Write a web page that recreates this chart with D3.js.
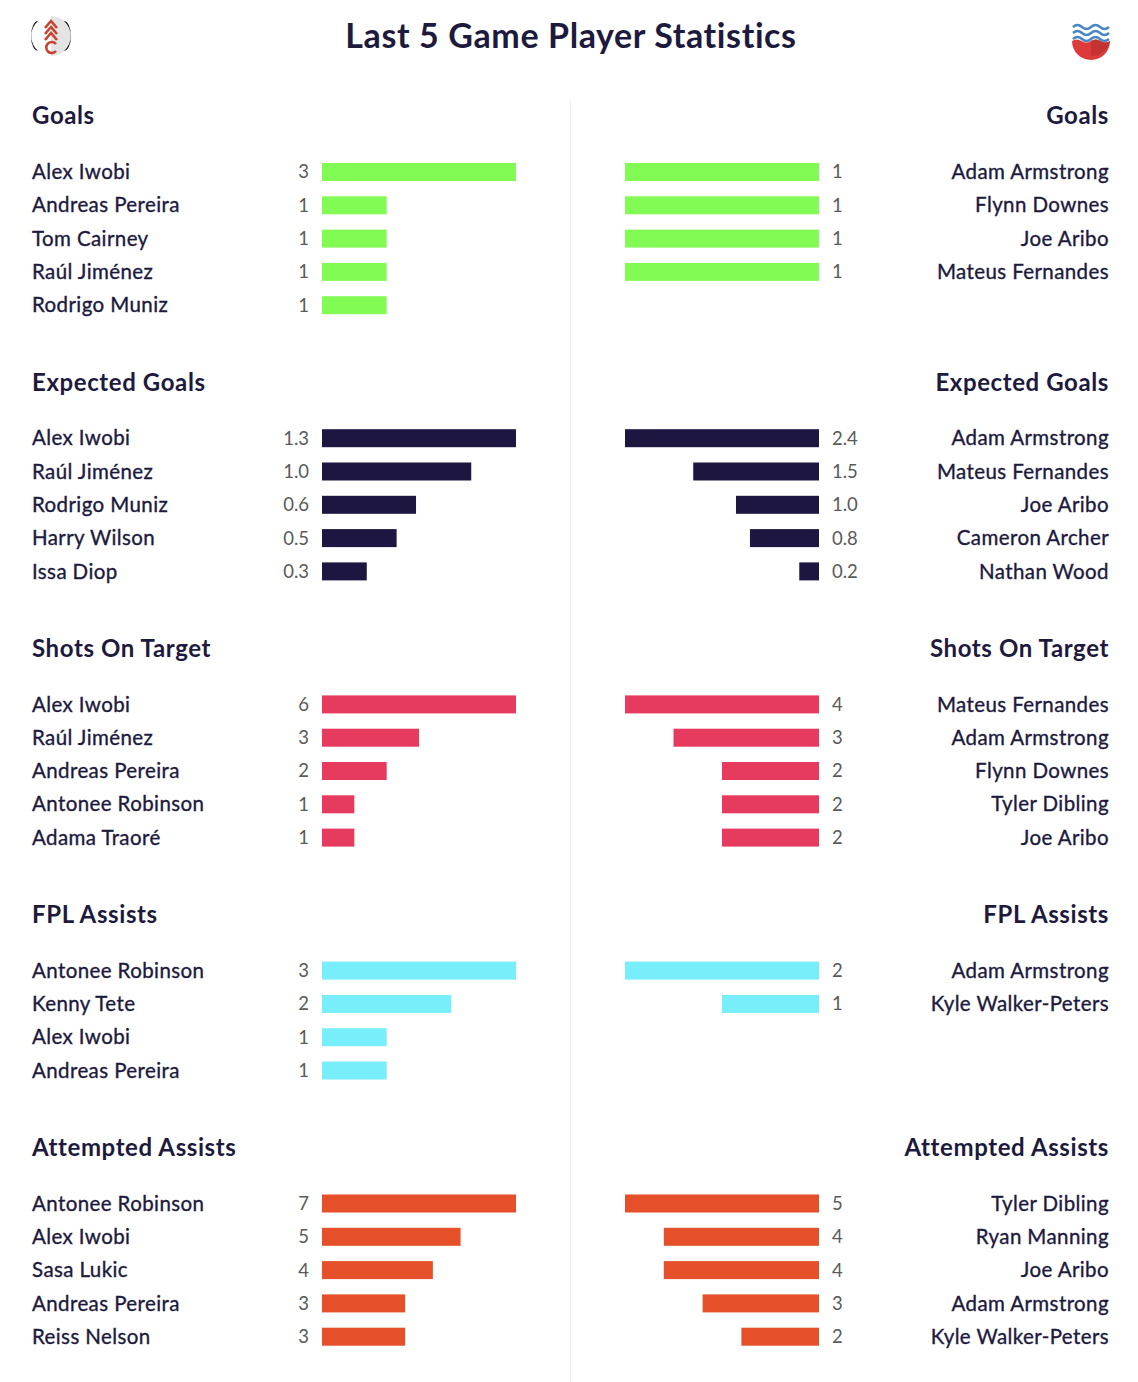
<!DOCTYPE html>
<html>
<head>
<meta charset="utf-8">
<script src="https://cdn.jsdelivr.net/npm/d3@7/dist/d3.min.js"></script>
<style>
  html, body { margin: 0; padding: 0; background: #fff; }
  svg { display: block; font-family: Lato, "Open Sans", sans-serif; }
</style>
</head>
<body>
<div id="chart"></div>
<script>
// ---- DATA ----
const title = "Last 5 Game Player Statistics";
const sectionTitles = ["Goals", "Expected Goals", "Shots On Target", "FPL Assists", "Attempted Assists"];
const sectionColors = ["#83fb55", "#1d1640", "#e63a5f", "#77eefa", "#e5502a"];
const valueFormats = ["d", ".1f", "d", "d", "d"];

const goalsHomeNames = ["Alex Iwobi", "Andreas Pereira", "Tom Cairney", "Raúl Jiménez", "Rodrigo Muniz"];
const goalsHomeValues = [3, 1, 1, 1, 1];
const goalsAwayNames = ["Adam Armstrong", "Flynn Downes", "Joe Aribo", "Mateus Fernandes"];
const goalsAwayValues = [1, 1, 1, 1];

const xgHomeNames = ["Alex Iwobi", "Raúl Jiménez", "Rodrigo Muniz", "Harry Wilson", "Issa Diop"];
const xgHomeValues = [1.3, 1.0, 0.63, 0.5, 0.3];
const xgAwayNames = ["Adam Armstrong", "Mateus Fernandes", "Joe Aribo", "Cameron Archer", "Nathan Wood"];
const xgAwayValues = [2.36, 1.53, 1.01, 0.84, 0.24];

const shotsHomeNames = ["Alex Iwobi", "Raúl Jiménez", "Andreas Pereira", "Antonee Robinson", "Adama Traoré"];
const shotsHomeValues = [6, 3, 2, 1, 1];
const shotsAwayNames = ["Mateus Fernandes", "Adam Armstrong", "Flynn Downes", "Tyler Dibling", "Joe Aribo"];
const shotsAwayValues = [4, 3, 2, 2, 2];

const fplHomeNames = ["Antonee Robinson", "Kenny Tete", "Alex Iwobi", "Andreas Pereira"];
const fplHomeValues = [3, 2, 1, 1];
const fplAwayNames = ["Adam Armstrong", "Kyle Walker-Peters"];
const fplAwayValues = [2, 1];

const aaHomeNames = ["Antonee Robinson", "Alex Iwobi", "Sasa Lukic", "Andreas Pereira", "Reiss Nelson"];
const aaHomeValues = [7, 5, 4, 3, 3];
const aaAwayNames = ["Tyler Dibling", "Ryan Manning", "Joe Aribo", "Adam Armstrong", "Kyle Walker-Peters"];
const aaAwayValues = [5, 4, 4, 3, 2];

const homeNames = [goalsHomeNames, xgHomeNames, shotsHomeNames, fplHomeNames, aaHomeNames];
const homeValues = [goalsHomeValues, xgHomeValues, shotsHomeValues, fplHomeValues, aaHomeValues];
const awayNames = [goalsAwayNames, xgAwayNames, shotsAwayNames, fplAwayNames, aaAwayNames];
const awayValues = [goalsAwayValues, xgAwayValues, shotsAwayValues, fplAwayValues, aaAwayValues];

// ---- LAYOUT ----
const W = 1138, H = 1382;
const ink = "#1d1a3d";
const svg = d3.select("#chart").append("svg").attr("width", W).attr("height", H);

svg.append("text").attr("x", 571).attr("y", 36).attr("dy", "0.35em")
  .attr("text-anchor", "middle").attr("font-size", 34).attr("font-weight", 700)
  .attr("letter-spacing", 0.6).attr("fill", ink).text(title);

// divider
svg.append("line").attr("x1", 570.5).attr("x2", 570.5).attr("y1", 100).attr("y2", H)
  .attr("stroke", "#efefef").attr("stroke-width", 1.2);

// Fulham-like logo
const fl = svg.append("g").attr("transform", "translate(51,36)");
fl.append("circle").attr("r", 20).attr("fill", "#fff");
fl.append("path").attr("d", "M0,-20 A20,20 0 0,1 0,20 Z").attr("fill", "#e4e4e4");
fl.append("path").attr("d", "M-13,-15 A20,20 0 0,0 -13,15 A7,15 0 0,1 -13,-15 Z").attr("fill", "#111");
fl.append("path").attr("d", "M13,-15 A20,20 0 0,1 13,15 A7,15 0 0,0 13,-15 Z").attr("fill", "#111");
fl.append("path").attr("d", "M-6,-8 L0,-15 L6,-8 M-6,-2 L0,-9 L6,-2 M-6,4 L0,-3 L6,4 M5,8 A5.5,5.5 0 1,0 5,15")
  .attr("fill", "none").attr("stroke", "#c8412f").attr("stroke-width", 2.6);

// Southampton-like logo
const sl = svg.append("g").attr("transform", "translate(1091,37)");
sl.append("path").attr("d", "M-19,4 q4.75,-3 9.5,0 t9.5,0 t9.5,0 t9.5,0 A19,19 0 0,1 -19,4 Z").attr("fill", "#dd3b3b");
sl.append("path").attr("d", "M0,4 q4.75,-3 9.5,0 t9.5,0 A19,19 0 0,1 0,19 Z").attr("fill", "#c43232");
[-10, -4, 2].forEach(y => {
  sl.append("path").attr("d", `M-18,${y} q4.5,-4 9,0 t9,0 t9,0 t9,0`)
    .attr("fill", "none").attr("stroke", "#4a87c6").attr("stroke-width", 2.6);
});

const rowStep = 33.3, barH = 18, barMax = 194;
const homeBarX = 322, awayBarX = 819;
let ty = 116;

function nameText(g, x, y, anchor, n) {
  g.append("text").attr("x", x).attr("y", y).attr("dy", "0.35em").attr("text-anchor", anchor)
    .attr("font-size", 20.5).attr("font-weight", 400).attr("letter-spacing", 0.4)
    .attr("fill", ink).attr("stroke", ink).attr("stroke-width", 0.35).text(n);
}
function valueText(g, x, y, anchor, t) {
  g.append("text").attr("x", x).attr("y", y).attr("dy", "0.35em").attr("text-anchor", anchor)
    .attr("font-size", 18.5).attr("font-weight", 400).attr("fill", "#5a5a5a").text(t);
}

sectionTitles.forEach((st, i) => {
  const g = svg.append("g");
  g.append("text").attr("x", 32).attr("y", ty).attr("dy", "0.35em")
    .attr("font-size", 24).attr("font-weight", 700).attr("letter-spacing", 0.6).attr("fill", ink).text(st);
  g.append("text").attr("x", 1109).attr("y", ty).attr("dy", "0.35em").attr("text-anchor", "end")
    .attr("font-size", 24).attr("font-weight", 700).attr("letter-spacing", 0.6).attr("fill", ink).text(st);

  const y0 = ty + 56;
  const fmt = d3.format(valueFormats[i]);
  const nRows = Math.max(homeNames[i].length, awayNames[i].length);
  const yScale = d3.scaleLinear().domain([0, 1]).range([y0, y0 + rowStep]);

  // home
  const hx = d3.scaleLinear().domain([0, d3.max(homeValues[i])]).range([0, barMax]);
  homeNames[i].forEach((n, j) => {
    const v = homeValues[i][j], y = yScale(j);
    nameText(g, 32, y, "start", n);
    valueText(g, 309, y, "end", fmt(v));
    g.append("rect").attr("x", homeBarX).attr("y", y - barH / 2).attr("width", hx(v)).attr("height", barH)
      .attr("fill", sectionColors[i]);
  });

  // away
  const ax = d3.scaleLinear().domain([0, d3.max(awayValues[i])]).range([0, barMax]);
  awayNames[i].forEach((n, j) => {
    const v = awayValues[i][j], y = yScale(j);
    nameText(g, 1109, y, "end", n);
    valueText(g, 832, y, "start", fmt(v));
    g.append("rect").attr("x", awayBarX - ax(v)).attr("y", y - barH / 2).attr("width", ax(v)).attr("height", barH)
      .attr("fill", sectionColors[i]);
  });

  ty = yScale(nRows - 1) + 77;
});
</script>
</body>
</html>
